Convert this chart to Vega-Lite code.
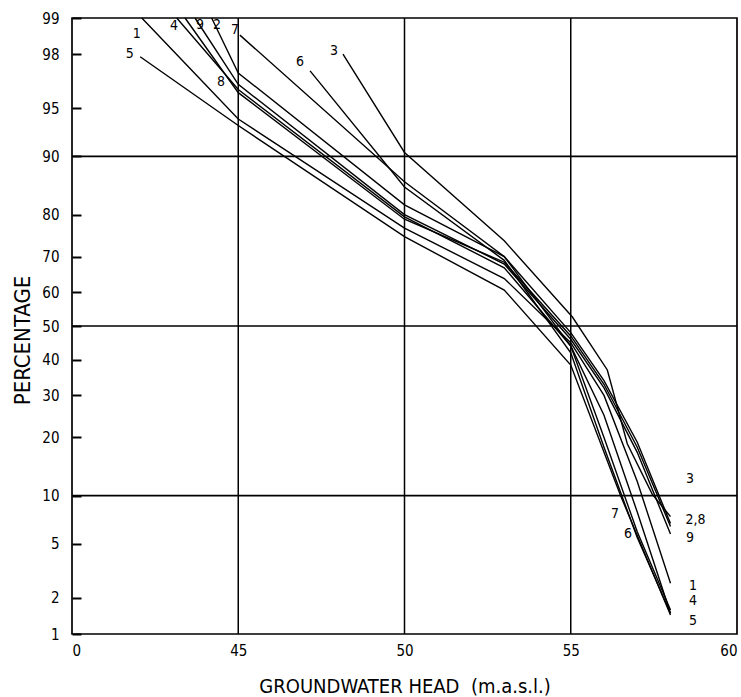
{
  "$schema": "https://vega.github.io/schema/vega-lite/v6.json",
  "autosize": {"type": "none"},
  "padding": {"left": 72, "top": 18, "right": 4, "bottom": 63},
  "width": 665,
  "height": 616,
  "background": "white",
  "config": {
    "view": {"stroke": "black", "strokeWidth": 1.7},
    "font": "DejaVu Sans Condensed"
  },
  "datasets": {
    "curves": [
      {"curve": "1", "head": 42.1, "pct": 99, "z": 2.3263},
      {"curve": "1", "head": 45, "pct": 94.1, "z": 1.5632},
      {"curve": "1", "head": 50, "pct": 77, "z": 0.7388},
      {"curve": "1", "head": 53, "pct": 64, "z": 0.3585},
      {"curve": "1", "head": 55, "pct": 45, "z": -0.1257},
      {"curve": "1", "head": 56, "pct": 30, "z": -0.5244},
      {"curve": "1", "head": 57, "pct": 12, "z": -1.175},
      {"curve": "1", "head": 58, "pct": 2.6, "z": -1.9431},
      {"curve": "5", "head": 42.05, "pct": 97.9, "z": 2.0335},
      {"curve": "5", "head": 45, "pct": 93.5, "z": 1.5141},
      {"curve": "5", "head": 50, "pct": 75, "z": 0.6745},
      {"curve": "5", "head": 53, "pct": 60.7, "z": 0.2715},
      {"curve": "5", "head": 55, "pct": 38.4, "z": -0.295},
      {"curve": "5", "head": 56.5, "pct": 10, "z": -1.2816},
      {"curve": "5", "head": 58, "pct": 1.45, "z": -2.1834},
      {"curve": "4", "head": 43.15, "pct": 99, "z": 2.3263},
      {"curve": "4", "head": 45, "pct": 96.3, "z": 1.7866},
      {"curve": "4", "head": 50, "pct": 79.5, "z": 0.8239},
      {"curve": "4", "head": 53, "pct": 67, "z": 0.4399},
      {"curve": "4", "head": 55, "pct": 44, "z": -0.151},
      {"curve": "4", "head": 56, "pct": 25, "z": -0.6745},
      {"curve": "4", "head": 57, "pct": 8, "z": -1.4051},
      {"curve": "4", "head": 58, "pct": 1.5, "z": -2.1701},
      {"curve": "9", "head": 43.7, "pct": 99, "z": 2.3263},
      {"curve": "9", "head": 45, "pct": 96.6, "z": 1.825},
      {"curve": "9", "head": 50, "pct": 80, "z": 0.8416},
      {"curve": "9", "head": 53, "pct": 68, "z": 0.4677},
      {"curve": "9", "head": 55, "pct": 46, "z": -0.1004},
      {"curve": "9", "head": 56, "pct": 32, "z": -0.4677},
      {"curve": "9", "head": 57, "pct": 17, "z": -0.9542},
      {"curve": "9", "head": 58, "pct": 5.8, "z": -1.5718},
      {"curve": "8", "head": 43.4, "pct": 99, "z": 2.3263},
      {"curve": "8", "head": 45, "pct": 96.1, "z": 1.7624},
      {"curve": "8", "head": 50, "pct": 79, "z": 0.8064},
      {"curve": "8", "head": 53, "pct": 68.5, "z": 0.4817},
      {"curve": "8", "head": 55, "pct": 47, "z": -0.0753},
      {"curve": "8", "head": 56, "pct": 33, "z": -0.4399},
      {"curve": "8", "head": 57, "pct": 18, "z": -0.9154},
      {"curve": "8", "head": 58, "pct": 6.5, "z": -1.5141},
      {"curve": "2", "head": 44.2, "pct": 99, "z": 2.3263},
      {"curve": "2", "head": 45, "pct": 97.2, "z": 1.911},
      {"curve": "2", "head": 50, "pct": 82, "z": 0.9154},
      {"curve": "2", "head": 53, "pct": 70, "z": 0.5244},
      {"curve": "2", "head": 55, "pct": 48, "z": -0.0502},
      {"curve": "2", "head": 56, "pct": 34, "z": -0.4125},
      {"curve": "2", "head": 57, "pct": 19, "z": -0.8779},
      {"curve": "2", "head": 58, "pct": 6.8, "z": -1.4909},
      {"curve": "7", "head": 45.05, "pct": 98.6, "z": 2.197},
      {"curve": "7", "head": 50, "pct": 86.2, "z": 1.0898},
      {"curve": "7", "head": 53, "pct": 70, "z": 0.5244},
      {"curve": "7", "head": 55, "pct": 44, "z": -0.151},
      {"curve": "7", "head": 56, "pct": 20, "z": -0.8416},
      {"curve": "7", "head": 57, "pct": 6, "z": -1.5548},
      {"curve": "7", "head": 58, "pct": 1.6, "z": -2.1444},
      {"curve": "6", "head": 47.16, "pct": 97.3, "z": 1.9268},
      {"curve": "6", "head": 50, "pct": 85.3, "z": 1.0494},
      {"curve": "6", "head": 53, "pct": 69, "z": 0.4959},
      {"curve": "6", "head": 55, "pct": 42, "z": -0.2019},
      {"curve": "6", "head": 56, "pct": 18, "z": -0.9154},
      {"curve": "6", "head": 57, "pct": 5.5, "z": -1.5982},
      {"curve": "6", "head": 58, "pct": 1.5, "z": -2.1701},
      {"curve": "3", "head": 48.15, "pct": 98, "z": 2.0537},
      {"curve": "3", "head": 50, "pct": 90.5, "z": 1.3106},
      {"curve": "3", "head": 53, "pct": 74, "z": 0.6433},
      {"curve": "3", "head": 55.05, "pct": 52.7, "z": 0.0677},
      {"curve": "3", "head": 56.1, "pct": 37, "z": -0.3319},
      {"curve": "3", "head": 56.7, "pct": 18.7, "z": -0.889},
      {"curve": "3", "head": 57.45, "pct": 10.2, "z": -1.2702},
      {"curve": "3", "head": 58, "pct": 7.5, "z": -1.4395}
    ],
    "labels": [
      {"text": "1", "head": 41.95, "z": 2.205},
      {"text": "5", "head": 41.74, "z": 2.054},
      {"text": "4", "head": 43.07, "z": 2.266},
      {"text": "9", "head": 43.85, "z": 2.27},
      {"text": "2", "head": 44.36, "z": 2.27},
      {"text": "7", "head": 44.9, "z": 2.235},
      {"text": "8", "head": 44.48, "z": 1.843},
      {"text": "6", "head": 46.86, "z": 1.994},
      {"text": "3", "head": 47.88, "z": 2.077},
      {"text": "3", "head": 58.59, "z": -1.156},
      {"text": "2,8", "head": 58.75, "z": -1.465},
      {"text": "9", "head": 58.59, "z": -1.6},
      {"text": "1", "head": 58.68, "z": -1.96},
      {"text": "4", "head": 58.68, "z": -2.08},
      {"text": "5", "head": 58.68, "z": -2.23},
      {"text": "7", "head": 56.33, "z": -1.42},
      {"text": "6", "head": 56.72, "z": -1.57}
    ],
    "vgrid": [{"head": 45}, {"head": 50}, {"head": 55}],
    "hgrid": [{"z": 1.2816}, {"z": 0}, {"z": -1.2816}]
  },
  "layer": [
    {
      "data": {"name": "vgrid"},
      "mark": {"type": "rule", "color": "black", "strokeWidth": 1.5},
      "encoding": {
        "x": {"field": "head", "type": "quantitative"}
      }
    },
    {
      "data": {"name": "hgrid"},
      "mark": {"type": "rule", "color": "black", "strokeWidth": 1.7},
      "encoding": {
        "y": {"field": "z", "type": "quantitative"}
      }
    },
    {
      "data": {"name": "curves"},
      "mark": {"type": "line", "color": "black", "strokeWidth": 1.4},
      "encoding": {
        "x": {
          "field": "head", "type": "quantitative",
          "scale": {"domain": [40, 60], "nice": false, "zero": false},
          "axis": {
            "values": [40, 45, 50, 55, 60],
            "labelExpr": "datum.value == 40 ? '0' : datum.label",
            "grid": false, "domain": false, "ticks": false,
            "labelPadding": 9, "labelFontSize": 15, "labelColor": "black",
            "labelFont": "DejaVu Sans Condensed",
            "title": "GROUNDWATER HEAD\u00a0\u00a0(m.a.s.l.)",
            "titleFontSize": 20, "titleFontWeight": "normal", "titleColor": "black",
            "titleFont": "DejaVu Sans Condensed",
            "titlePadding": 18
          }
        },
        "y": {
          "field": "z", "type": "quantitative",
          "scale": {"domain": [-2.3263, 2.3263], "nice": false, "zero": false},
          "axis": {
            "values": [-2.3263, -2.0537, -1.6449, -1.2816, -0.8416, -0.5244, -0.2533, 0, 0.2533, 0.5244, 0.8416, 1.2816, 1.6449, 2.0537, 2.3263],
            "labelExpr": "format(round(cumulativeNormal(datum.value) * 100), 'd')",
            "offset": -9,
            "grid": false, "domain": false,
            "ticks": true, "tickSize": 9, "tickColor": "black", "tickWidth": 2,
            "labelPadding": 13, "labelFontSize": 15, "labelColor": "black",
            "labelFont": "DejaVu Sans Condensed",
            "title": "PERCENTAGE",
            "titleFontSize": 22, "titleFontWeight": "normal", "titleColor": "black",
            "titleFont": "DejaVu Sans Condensed",
            "titleX": -59, "titleY": 322, "titleAngle": -90,
            "titleAlign": "center", "titleBaseline": "middle"
          }
        },
        "detail": {"field": "curve", "type": "nominal"}
      }
    },
    {
      "data": {"name": "labels"},
      "mark": {"type": "text", "color": "black", "fontSize": 14, "font": "DejaVu Sans Condensed"},
      "encoding": {
        "x": {"field": "head", "type": "quantitative"},
        "y": {"field": "z", "type": "quantitative"},
        "text": {"field": "text", "type": "nominal"}
      }
    }
  ]
}
